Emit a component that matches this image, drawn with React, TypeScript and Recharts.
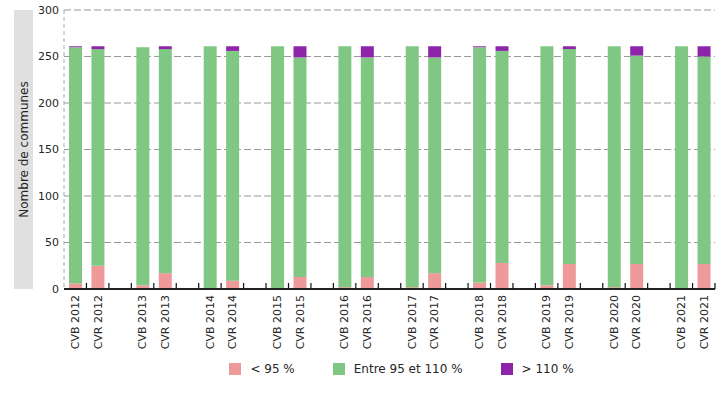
import React from "react";
import { BarChart, Bar, XAxis, YAxis, CartesianGrid, Legend } from "recharts";

// one empty slot between each pair of years
const categories = [
  "CVB 2012", "CVR 2012", "",
  "CVB 2013", "CVR 2013", "",
  "CVB 2014", "CVR 2014", "",
  "CVB 2015", "CVR 2015", "",
  "CVB 2016", "CVR 2016", "",
  "CVB 2017", "CVR 2017", "",
  "CVB 2018", "CVR 2018", "",
  "CVB 2019", "CVR 2019", "",
  "CVB 2020", "CVR 2020", "",
  "CVB 2021", "CVR 2021",
];

const below95 = [
  6, 25, null, 4, 17, null, 0, 9, null, 0, 13, null, 2, 13, null,
  2, 17, null, 7, 28, null, 4, 27, null, 2, 27, null, 0, 27,
];
const between95and110 = [
  254, 233, null, 256, 241, null, 261, 247, null, 261, 236, null, 259, 236, null,
  259, 232, null, 253, 228, null, 257, 231, null, 259, 224, null, 261, 223,
];
const above110 = [
  1, 3, null, 0, 3, null, 0, 5, null, 0, 12, null, 0, 12, null,
  0, 12, null, 1, 5, null, 0, 3, null, 0, 10, null, 0, 11,
];

const seriesNames = ["< 95 %", "Entre 95 et 110 %", "> 110 %"];
const yTicks = [0, 50, 100, 150, 200, 250, 300];

const data = categories.map((name, i) => ({
  name,
  low: below95[i],
  mid: between95and110[i],
  high: above110[i],
}));

const FONT = "'DejaVu Sans', sans-serif";
const TEXT = "#262626";

const W = 725;
const H = 400;
const MARGIN = { top: 10, right: 10, left: 14, bottom: 16 };
const Y_AXIS_W = 50;
const PLOT_W = W - MARGIN.left - MARGIN.right - Y_AXIS_W;

// label + a small mark on the right edge of each band, pointing up
// eslint-disable-next-line @typescript-eslint/no-explicit-any
const XTick = (props: any) => {
  const { x, y, payload } = props;
  const half = PLOT_W / categories.length / 2;
  return (
    <g>
      <rect x={x + half - 0.6} y={y - 6} width={1.2} height={6} fill="#111" />
      <text
        transform={`translate(${x},${y + 6}) rotate(-90)`}
        textAnchor="end"
        dy="0.35em"
        fontSize={11}
        fill={TEXT}
        fontFamily={FONT}
      >
        {payload.value}
      </text>
    </g>
  );
};

// eslint-disable-next-line @typescript-eslint/no-explicit-any
const YLabel = (props: any) => {
  const { x, y, height } = props.viewBox;
  const cx = x + 9.5;
  const cy = y + height / 2;
  return (
    <g>
      <rect x={x} y={y} width={19} height={height} fill="#e0e0e0" />
      <text
        transform={`translate(${cx},${cy}) rotate(-90)`}
        textAnchor="middle"
        dy="0.35em"
        fontSize={12}
        fill={TEXT}
        fontFamily={FONT}
      >
        Nombre de communes
      </text>
    </g>
  );
};

// eslint-disable-next-line @typescript-eslint/no-explicit-any
const LegendBox = ({ payload }: any) => {
  const items = [...(payload || [])].sort(
    (a: any, b: any) => seriesNames.indexOf(a.value) - seriesNames.indexOf(b.value)
  );
  return (
    <div
      style={{
        display: "flex",
        justifyContent: "center",
        alignItems: "center",
        height: 30,
        paddingLeft: 116,
        fontFamily: FONT,
        fontSize: 12,
        color: TEXT,
      }}
    >
      {items.map((p: any) => (
        <span key={p.value} style={{ display: "flex", alignItems: "center", marginRight: 38 }}>
          <span style={{ width: 12, height: 12, background: p.color, display: "inline-block", marginRight: 9 }} />
          {p.value}
        </span>
      ))}
    </div>
  );
};

export default function App() {
  return (
    <div style={{ position: "absolute", left: 0, top: 0, width: W, height: H, background: "#fff" }}>
      <BarChart width={W} height={H} data={data} margin={MARGIN} style={{ fontFamily: FONT }}>
        <CartesianGrid vertical={false} stroke="#9a9a9a" strokeDasharray="7 3" strokeWidth={1.1} />
        <XAxis
          dataKey="name"
          interval={0}
          height={65}
          tickSize={0}
          tickMargin={0}
          tickLine={false}
          axisLine={{ stroke: "#222", strokeWidth: 2 }}
          tick={(p: any) => <XTick {...p} />}
        />
        <YAxis
          domain={[0, 300]}
          ticks={yTicks}
          width={Y_AXIS_W}
          tickSize={0}
          tickMargin={5}
          tickLine={false}
          axisLine={{ stroke: "#aaa", strokeDasharray: "4 3" }}
          tick={{ fill: TEXT, fontSize: 11, fontFamily: FONT }}
          label={<YLabel />}
        />
        <Legend verticalAlign="bottom" height={30} content={<LegendBox />} wrapperStyle={{ left: 0, width: W }} />
        <Bar dataKey="low" name={seriesNames[0]} stackId="a" fill="#ee9a9a" barSize={13} isAnimationActive={false} />
        <Bar dataKey="mid" name={seriesNames[1]} stackId="a" fill="#80c784" barSize={13} isAnimationActive={false} />
        <Bar dataKey="high" name={seriesNames[2]} stackId="a" fill="#8e24aa" barSize={13} isAnimationActive={false} />
      </BarChart>
    </div>
  );
}
